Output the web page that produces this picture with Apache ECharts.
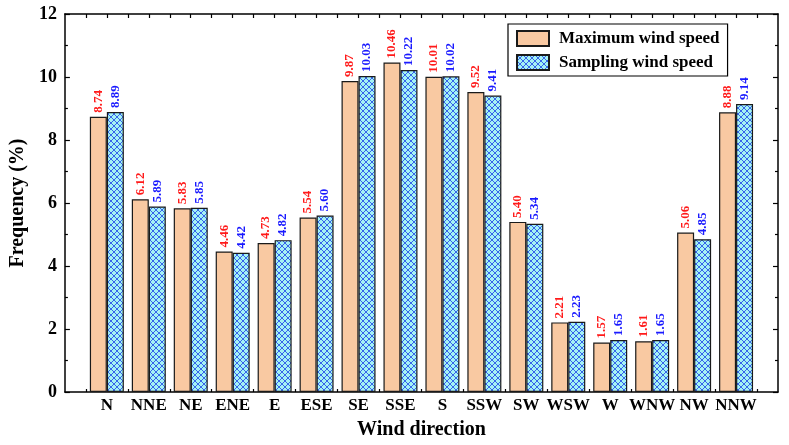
<!DOCTYPE html>
<html>
<head>
<meta charset="utf-8">
<script src="https://cdn.jsdelivr.net/npm/echarts@6/dist/echarts.min.js"></script>
<style>
  html, body { margin: 0; padding: 0; background: #fff; }
  #chart { width: 789px; height: 445px; }
</style>
</head>
<body>
<div id="chart"></div>
<script>
var directions = ['N', 'NNE', 'NE', 'ENE', 'E', 'ESE', 'SE', 'SSE', 'S', 'SSW', 'SW', 'WSW', 'W', 'WNW', 'NW', 'NNW']
var maxSpeed = [8.74, 6.12, 5.83, 4.46, 4.73, 5.54, 9.87, 10.46, 10.01, 9.52, 5.40, 2.21, 1.57, 1.61, 5.06, 8.88]
var samplingSpeed = [8.89, 5.89, 5.85, 4.42, 4.82, 5.60, 10.03, 10.22, 10.02, 9.41, 5.34, 2.23, 1.65, 1.65, 4.85, 9.14]
var yTicks = [0, 2, 4, 6, 8, 10, 12]

var font = "'Liberation Serif', 'Times New Roman', serif"

// cross hatch tile for the sampling bars
function hatch() {
  var c = document.createElement('canvas')
  c.width = 6
  c.height = 6
  var ctx = c.getContext('2d')
  ctx.fillStyle = '#a4f2f4'
  ctx.fillRect(0, 0, 6, 6)
  ctx.strokeStyle = '#3763ea'
  ctx.lineWidth = 1
  ctx.beginPath()
  ctx.moveTo(0, 0); ctx.lineTo(6, 6)
  ctx.moveTo(6, 0); ctx.lineTo(0, 6)
  ctx.stroke()
  return c
}

var centers = directions.map(function(d, i) { return i })
var bounds = directions.map(function(d, i) { return i - 0.5 }).concat([directions.length - 0.5])
var halfSteps = []
for (var k = -0.5; k <= directions.length - 0.5; k += 0.5) halfSteps.push(k)

var chart = echarts.init(document.getElementById('chart'))
chart.setOption({
  animation: false,
  textStyle: { fontFamily: font },
  grid: { left: 61, right: 11, top: 14, bottom: 53 },
  legend: {
    left: 508,
    top: 24,
    orient: 'vertical',
    itemWidth: 32,
    itemHeight: 15,
    itemGap: 7,
    padding: [6, 8, 5, 8],
    borderColor: '#000',
    borderWidth: 1.2,
    textStyle: { fontFamily: font, fontSize: 17, fontWeight: 'bold', color: '#000', padding: [0, 0, 0, 5] },
    data: [{ name: 'Maximum wind speed', icon: 'rect' }, { name: 'Sampling wind speed', icon: 'rect' }]
  },
  xAxis: [{
    type: 'value',
    min: -1,
    max: directions.length,
    position: 'bottom',
    name: 'Wind direction',
    nameLocation: 'middle',
    nameGap: 28,
    nameTextStyle: { fontFamily: font, fontSize: 20, fontWeight: 'bold', color: '#000' },
    axisLine: { show: true, onZero: false, lineStyle: { color: '#000', width: 1.5 } },
    axisTick: { show: true, inside: true, length: 3, customValues: bounds, lineStyle: { color: '#000', width: 1.2 } },
    axisLabel: {
      customValues: centers,
      margin: 5,
      fontFamily: font, fontSize: 17, fontWeight: 'bold', color: '#000',
      formatter: function(v) { return directions[Math.round(v)] }
    },
    splitLine: { show: false }
  }, {
    type: 'value',
    min: -1,
    max: directions.length,
    position: 'top',
    axisLine: { show: true, onZero: false, lineStyle: { color: '#000', width: 1.5 } },
    axisTick: { show: true, inside: true, length: 4, customValues: halfSteps, lineStyle: { color: '#000', width: 1.2 } },
    axisLabel: { show: false },
    splitLine: { show: false }
  }],
  yAxis: [{
    type: 'value',
    min: 0,
    max: 12,
    interval: 2,
    position: 'left',
    name: 'Frequency (%)',
    nameLocation: 'middle',
    nameGap: 33,
    nameTextStyle: { fontFamily: font, fontSize: 20, fontWeight: 'bold', color: '#000' },
    axisLine: { show: true, onZero: false, lineStyle: { color: '#000', width: 1.5 } },
    axisTick: { show: true, inside: true, length: 5, lineStyle: { color: '#000', width: 1.2 } },
    minorTick: { show: true, splitNumber: 2, length: 3, lineStyle: { color: '#000', width: 1.2 } },
    axisLabel: { margin: 8, fontFamily: font, fontSize: 18, fontWeight: 'bold', color: '#000',
      formatter: function(v) { return yTicks.indexOf(v) >= 0 ? String(v) : '' } },
    splitLine: { show: false }
  }, {
    type: 'value',
    min: 0,
    max: 12,
    interval: 2,
    position: 'right',
    axisLine: { show: true, onZero: false, lineStyle: { color: '#000', width: 1.5 } },
    axisTick: { show: true, inside: true, length: 5, lineStyle: { color: '#000', width: 1.2 } },
    minorTick: { show: true, splitNumber: 2, length: 3, lineStyle: { color: '#000', width: 1.2 } },
    axisLabel: { show: false },
    splitLine: { show: false }
  }],
  series: [{
    name: 'Maximum wind speed',
    type: 'bar',
    barWidth: 17,
    barGap: '0%',
    data: maxSpeed.map(function(v, i) { return [i, v] }),
    itemStyle: { color: '#f9c9a2', borderColor: '#1a1a1a', borderWidth: 1.2 },
    label: {
      show: true, position: 'top', rotate: 90, align: 'left', verticalAlign: 'middle', distance: 4,
      fontFamily: font, fontSize: 13, fontWeight: 'bold', color: '#ff1a1a',
      formatter: function(p) { return p.value[1].toFixed(2) }
    }
  }, {
    name: 'Sampling wind speed',
    type: 'bar',
    barWidth: 17,
    barGap: '0%',
    data: samplingSpeed.map(function(v, i) { return [i, v] }),
    itemStyle: { color: { image: hatch(), repeat: 'repeat' }, borderColor: '#1a1a1a', borderWidth: 1.2 },
    label: {
      show: true, position: 'top', rotate: 90, align: 'left', verticalAlign: 'middle', distance: 4,
      fontFamily: font, fontSize: 13, fontWeight: 'bold', color: '#1a1aff',
      formatter: function(p) { return p.value[1].toFixed(2) }
    }
  }]
})
</script>
</body>
</html>
